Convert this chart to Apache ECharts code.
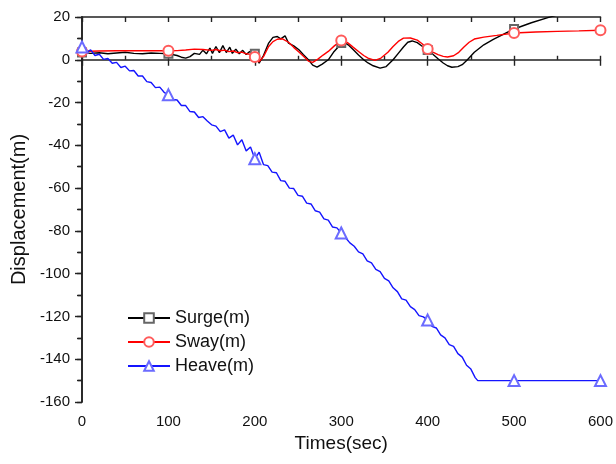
<!DOCTYPE html>
<html><head><meta charset="utf-8">
<script src="https://cdn.jsdelivr.net/npm/echarts@6/dist/echarts.min.js"></script>
<style>html,body{margin:0;padding:0;background:#fff}#c{width:616px;height:464px}</style>
</head><body><div id="c"></div>
<script>
const xTitle = 'Times(sec)';
const yTitle = 'Displacement(m)';
const seriesNames = ['Surge(m)', 'Sway(m)', 'Heave(m)'];
const markerTimes = [0, 100, 200, 300, 400, 500, 600];

const surgeT = [0,10,20,30,40,50,60,70,80,90,100,110,115,120,125,130,136,140,144,148,151,155,159,163,167,171,174,178,182,186,190,194,197,200,205,210,216,221,226,230,235,239,245,251,256,262,267,272,278,285,291,297,300,303,308,314,320,326,331,337,345,352,360,366,372,377,382,388,394,400,406,412,418,423,428,435,440,446,454,465,476,488,500,520,540,560,580,600];
const surgeV = [3.4,3.0,3.3,2.8,3.2,3.5,3.0,2.8,3.2,3.0,2.8,2.0,1.2,0.8,1.5,3.0,2.5,4.5,2.8,5.5,3.0,6.2,3.3,6.6,3.4,5.9,3.0,5.0,2.8,4.4,2.5,3.9,2.2,2.8,-1.6,2.0,7.8,10.5,10.9,9.8,11.2,7.8,6.5,4.7,2.5,0.0,-2.5,-3.4,-2.0,0.0,3.5,6.2,7.8,8.4,7.0,4.7,2.2,0.0,-1.5,-2.8,-3.9,-3.2,0.0,3.0,6.0,8.2,8.8,8.0,6.2,4.6,2.6,0.5,-1.5,-2.8,-3.5,-3.2,-2.3,0.0,3.5,7.0,9.5,12.0,14.4,17.3,19.8,22.0,24.0,26.0];

const swayT = [0,20,40,60,80,100,110,120,130,140,150,155,160,165,170,175,180,185,190,195,200,205,210,216,221,226,232,239,245,251,256,262,267,273,279,285,292,300,304,308,314,320,326,331,339,346,354,360,366,372,380,388,394,400,406,412,418,423,430,436,442,448,454,465,480,500,525,550,575,600];
const swayV = [3.9,4.1,4.2,4.2,4.3,4.2,4.3,4.6,5.0,4.8,4.4,4.8,4.2,4.5,3.8,4.1,3.3,3.6,2.8,2.5,1.3,-1.0,1.5,6.2,8.5,9.6,9.8,8.2,5.8,3.6,1.8,-0.6,-1.2,0.3,2.2,3.9,6.5,9.0,8.8,7.8,5.8,3.9,2.0,0.8,-0.3,0.8,3.5,6.2,8.6,10.1,10.2,9.2,7.4,5.0,3.6,2.4,1.6,1.3,1.9,3.5,6.0,8.2,9.7,10.6,11.4,12.5,13.0,13.3,13.5,13.8];

const heaveT = [0,5,10,15,20,25,30,35,40,45,50,55,60,65,70,75,80,85,90,95,100,105,110,115,120,125,130,135,140,145,150,155,160,165,170,175,180,185,190,195,200,205,210,215,220,225,230,235,240,245,250,255,260,265,270,275,280,285,290,295,300,305,310,315,320,325,330,335,340,345,350,355,360,365,370,375,380,385,390,395,400,405,410,415,420,425,430,435,440,445,450,455,458,500,550,600];
const heaveV = [6.0,3.5,4.6,2.0,2.6,0.2,0.6,-1.6,-1.2,-3.6,-3.0,-5.2,-5.0,-7.6,-7.6,-10.2,-10.6,-13.0,-12.8,-15.2,-16.4,-18.6,-18.8,-21.4,-21.4,-24.2,-24.4,-27.0,-26.6,-28.6,-30.4,-31.0,-33.6,-32.8,-36.6,-35.2,-39.8,-37.4,-42.6,-40.8,-46.3,-43.2,-49.0,-49.5,-52.5,-52.8,-56.5,-56.8,-60.0,-60.2,-63.4,-63.8,-67.0,-67.4,-70.6,-71.2,-74.4,-75.0,-78.2,-78.6,-81.0,-83.2,-85.6,-87.2,-89.8,-90.8,-94.0,-95.0,-98.0,-99.0,-102.2,-103.4,-106.6,-108.4,-111.8,-112.4,-115.4,-116.8,-119.6,-120.2,-121.7,-124.6,-125.4,-128.6,-130.0,-133.2,-134.0,-137.4,-139.0,-142.8,-144.6,-148.6,-150.0,-150.0,-150.0,-150.0];

function mk(T, V) {
  return T.map((t, i) => markerTimes.indexOf(t) >= 0 ? { value: [t, V[i]] } : { value: [t, V[i]], symbol: 'none' });
}

const font = '"Liberation Sans", Arial, sans-serif';
const axisCol = '#222';
const chart = echarts.init(document.getElementById('c'), null, { renderer: 'canvas' });

function lineSeries(name, T, V, col, mcol, sym, size) {
  return {
    name, type: 'line', data: mk(T, V), xAxisIndex: 0, yAxisIndex: 0,
    symbol: sym, symbolSize: size, showSymbol: true, showAllSymbol: true,
    color: col, clip: true,
    lineStyle: { color: col, width: 1.4 },
    itemStyle: { color: mcol, borderColor: mcol, borderWidth: 1.2 },
    emphasis: { disabled: true }, animation: false
  };
}

chart.setOption({
  animation: false,
  backgroundColor: '#fff',
  textStyle: { fontFamily: font },
  grid: { left: 82, right: 13, top: 17, bottom: 62, containLabel: false },
  legend: {
    orient: 'vertical', left: 127, top: 309, padding: 0,
    itemWidth: 42, itemHeight: 12, itemGap: 6,
    textStyle: { fontSize: 18, color: '#111', fontFamily: font },
    data: seriesNames, selectedMode: false
  },
  xAxis: [
    {
      type: 'value', position: 'bottom', min: 0, max: 600, interval: 100,
      name: xTitle, nameLocation: 'middle', nameGap: 30,
      nameTextStyle: { fontSize: 19, color: '#111', fontFamily: font },
      axisLine: { show: true, lineStyle: { color: axisCol, width: 1.6 } },
      axisTick: { show: true, inside: false, length: 6, lineStyle: { color: axisCol, width: 1.4 } },
      axisLabel: { fontSize: 15, color: '#111', margin: 12, fontFamily: font },
      splitLine: { show: false }
    },
    {
      type: 'value', position: 'bottom', min: 0, max: 600, interval: 50,
      axisLine: { show: false },
      axisTick: { show: true, inside: true, length: 4, lineStyle: { color: axisCol, width: 1.4 } },
      axisLabel: { show: false }, splitLine: { show: false }
    },
    {
      type: 'value', position: 'top', min: 0, max: 600, interval: 50,
      axisLine: { show: true, lineStyle: { color: axisCol, width: 1.6 } },
      axisTick: { show: true, inside: true, length: 5, lineStyle: { color: axisCol, width: 1.4 } },
      axisLabel: { show: false }, splitLine: { show: false }
    }
  ],
  yAxis: [
    {
      type: 'value', position: 'left', min: -160, max: 20, interval: 20,
      name: yTitle, nameLocation: 'middle', nameGap: 52,
      nameTextStyle: { fontSize: 20, color: '#111', fontFamily: font },
      axisLine: { show: true, lineStyle: { color: axisCol, width: 1.6 } },
      axisTick: { show: true, inside: false, length: 7, lineStyle: { color: axisCol, width: 1.4 } },
      minorTick: { show: true, splitNumber: 2, length: 4, lineStyle: { color: axisCol, width: 1.4 } },
      axisLabel: { fontSize: 15, color: '#111', margin: 12, fontFamily: font },
      splitLine: { show: false }
    },
    {
      type: 'value', position: 'right', min: -160, max: 20, interval: 10,
      axisLine: { show: true, lineStyle: { color: axisCol, width: 1.6 } },
      axisTick: { show: true, inside: true, length: 5, lineStyle: { color: axisCol, width: 1.4 } },
      axisLabel: { show: false }, splitLine: { show: false }
    }
  ],
  series: [
    lineSeries(seriesNames[0], surgeT, surgeV, '#000000', '#666666', 'emptyRect', 8),
    lineSeries(seriesNames[1], swayT, swayV, '#ff0000', '#ff5a5a', 'emptyCircle', 10),
    lineSeries(seriesNames[2], heaveT, heaveV, '#1414ff', '#6b6bff', 'emptyTriangle', 11)
  ]
});
</script>
</body></html>
